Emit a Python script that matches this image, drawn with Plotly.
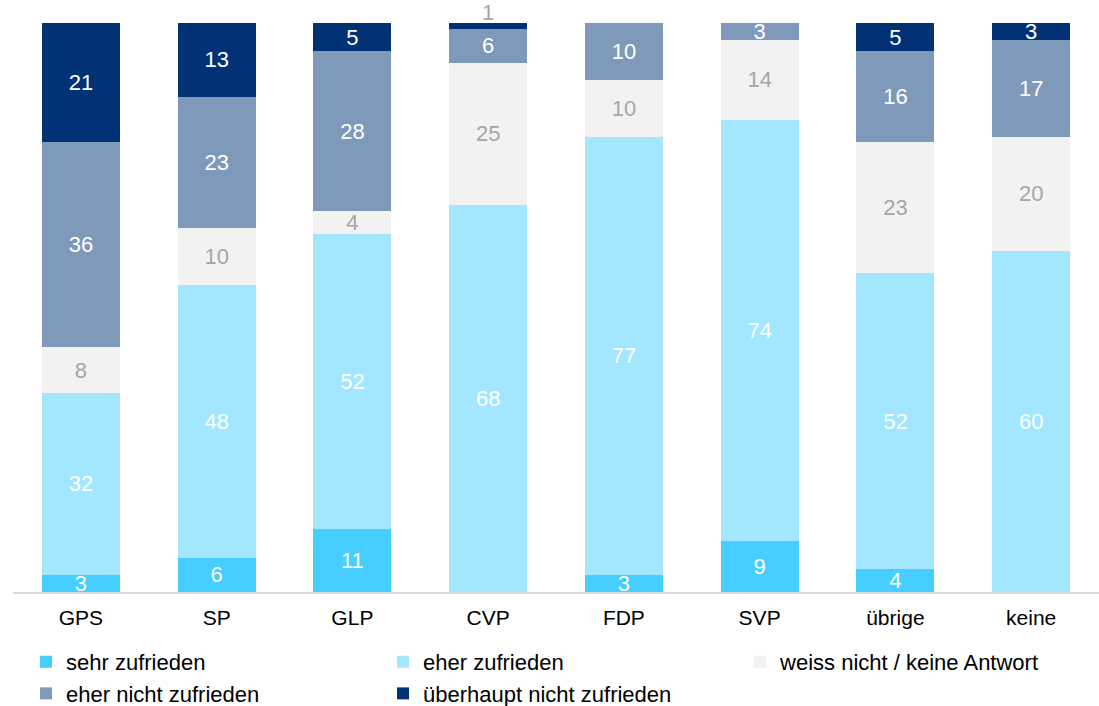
import plotly.graph_objects as go

categories = ["GPS", "SP", "GLP", "CVP", "FDP", "SVP", "übrige", "keine"]
series_names = ["sehr zufrieden", "eher zufrieden", "weiss nicht / keine Antwort",
                "eher nicht zufrieden", "überhaupt nicht zufrieden"]
sehr_zufrieden = [3, 6, 11, 0, 3, 9, 4, 0]
eher_zufrieden = [32, 48, 52, 68, 77, 74, 52, 60]
weiss_nicht = [8, 10, 4, 25, 10, 14, 23, 20]
eher_nicht = [36, 23, 28, 6, 10, 3, 16, 17]
ueberhaupt_nicht = [21, 13, 5, 1, 0, 0, 5, 3]

colors = ["#45CEFF", "#A2E6FF", "#F2F2F2", "#7F99BA", "#003275"]
text_colors = ["white", "white", "#A6A6A6", "white", "white"]
all_values = [sehr_zufrieden, eher_zufrieden, weiss_nicht, eher_nicht, ueberhaupt_nicht]

FONT = "Liberation Sans, Arial, sans-serif"

fig = go.Figure()
totals = [sum(col) for col in zip(*all_values)]
for i, (name, vals) in enumerate(zip(series_names, all_values)):
    texts = []
    for j, v in enumerate(vals):
        if v <= 0:
            texts.append("")
        elif v == 1 and i == len(all_values) - 1:
            # tiny top segment: label sits just above the stack
            texts.append("")
            fig.add_annotation(x=categories[j], y=totals[j], text=str(v),
                               showarrow=False, yanchor="bottom", yshift=-4,
                               font=dict(size=22, family=FONT, color="#A6A6A6"))
        else:
            texts.append(str(v))
    fig.add_trace(go.Bar(
        x=categories, y=vals, name=name,
        marker=dict(color=colors[i], line=dict(width=0)),
        text=texts, textposition="inside", textangle=0,
        textfont=dict(color=text_colors[i], size=22, family=FONT),
        insidetextanchor="middle", constraintext="none",
        cliponaxis=False, hoverinfo="skip",
    ))

fig.update_layout(
    barmode="stack",
    bargap=0.425,
    width=1099, height=706,
    margin=dict(l=13, r=0, t=23, b=114, autoexpand=False),
    paper_bgcolor="white", plot_bgcolor="white",
    font=dict(family=FONT, color="black"),
    uniformtext=dict(minsize=22, mode="show"),
    showlegend=True,
    legend=dict(orientation="h", xref="paper", yref="container",
                x=0.012, y=0.0921, xanchor="left", yanchor="top",
                bgcolor="rgba(0,0,0,0)",
                entrywidth=312, entrywidthmode="pixels",
                font=dict(size=22, family=FONT, color="black"),
                itemwidth=30, tracegroupgap=0, traceorder="normal"),
    xaxis=dict(showline=True, linecolor="#D9D9D9", linewidth=2,
               ticks="outside", ticklen=6, tickcolor="rgba(0,0,0,0)",
               tickfont=dict(size=21, color="black"), showgrid=False),
    yaxis=dict(range=[0, 100], visible=False, showgrid=False),
)

# remove the browser's default 8px body margin so the figure fills the window
fig.write_html("out.html", config={"displayModeBar": False},
               post_script="document.body.style.margin='0';")
